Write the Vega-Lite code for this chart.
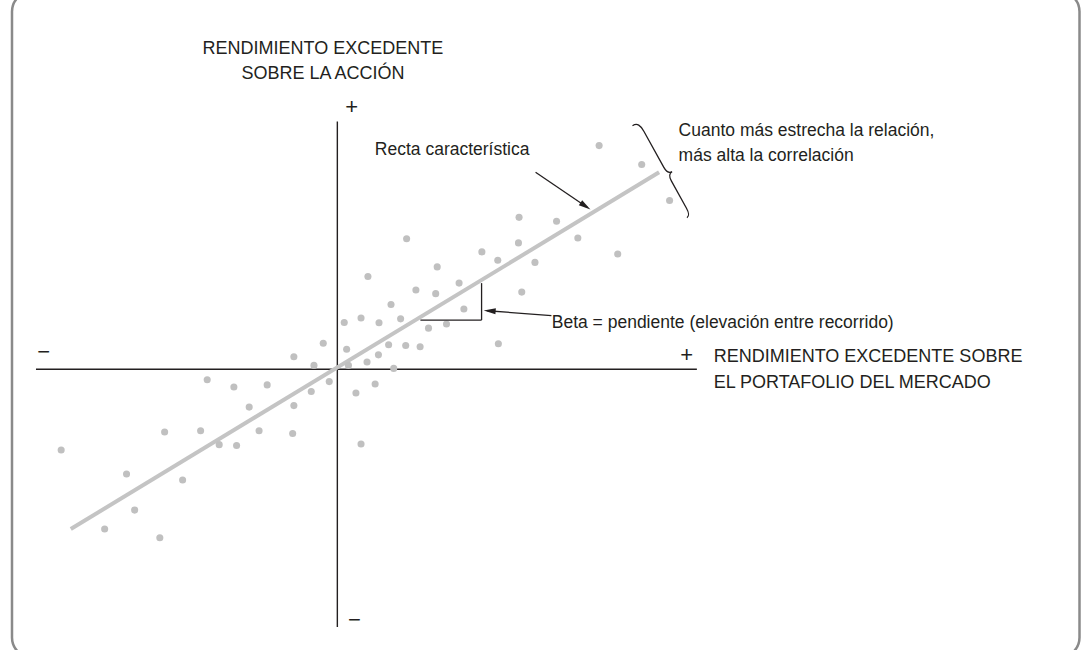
{
  "$schema": "https://vega.github.io/schema/vega-lite/v6.json",
  "width": 1087,
  "height": 650,
  "autosize": {"type": "fit", "contains": "padding"},
  "padding": 0,
  "background": "white",
  "config": {
    "view": {"stroke": null},
    "text": {"font": "Liberation Sans", "fontSize": 17.5, "color": "#231f20", "baseline": "middle"}
  },
  "datasets": {
    "stocks": [
      {"x": 8.73, "y": 7.45}, {"x": 10.15, "y": 6.82}, {"x": 11.08, "y": 5.62}, {"x": 6.06, "y": 5.06},
      {"x": 7.31, "y": 4.93}, {"x": 2.31, "y": 4.35}, {"x": 6.04, "y": 4.21}, {"x": 8.02, "y": 4.37},
      {"x": 4.82, "y": 3.91}, {"x": 5.35, "y": 3.63}, {"x": 6.59, "y": 3.56}, {"x": 9.35, "y": 3.84},
      {"x": 1.02, "y": 3.09}, {"x": 3.33, "y": 3.41}, {"x": 2.62, "y": 2.64}, {"x": 3.28, "y": 2.52},
      {"x": 6.15, "y": 2.57}, {"x": 1.79, "y": 2.16}, {"x": 4.22, "y": 2.01}, {"x": 0.23, "y": 1.56},
      {"x": 0.79, "y": 1.71}, {"x": 1.39, "y": 1.55}, {"x": 2.11, "y": 1.68}, {"x": 3.04, "y": 1.37},
      {"x": 3.64, "y": 1.51}, {"x": 0.31, "y": 0.67}, {"x": 1.71, "y": 0.82}, {"x": 2.28, "y": 0.79},
      {"x": 2.76, "y": 0.75}, {"x": 5.37, "y": 0.85}, {"x": 1.37, "y": 0.48}, {"x": 0.99, "y": 0.24},
      {"x": -0.47, "y": 0.87}, {"x": -1.45, "y": 0.42}, {"x": -0.78, "y": 0.13}, {"x": 0.37, "y": 0.13},
      {"x": 1.88, "y": 0.03}, {"x": -4.34, "y": -0.35}, {"x": -3.45, "y": -0.59}, {"x": -2.34, "y": -0.52},
      {"x": -0.27, "y": -0.41}, {"x": -0.87, "y": -0.74}, {"x": 0.62, "y": -0.79}, {"x": 1.26, "y": -0.49},
      {"x": -2.94, "y": -1.26}, {"x": -1.45, "y": -1.21}, {"x": -5.76, "y": -2.09}, {"x": -4.56, "y": -2.05},
      {"x": -3.94, "y": -2.51}, {"x": -3.36, "y": -2.54}, {"x": -2.61, "y": -2.05}, {"x": -1.49, "y": -2.14},
      {"x": 0.79, "y": -2.49}, {"x": -9.21, "y": -2.69}, {"x": -7.03, "y": -3.49}, {"x": -5.16, "y": -3.69},
      {"x": -6.76, "y": -4.69}, {"x": -7.76, "y": -5.32}, {"x": -5.92, "y": -5.61}, {"x": 4.06, "y": 2.87}
    ],
    "fit": [{"x": -8.89, "y": -5.32, "x2": 10.73, "y2": 6.56}],
    "axes": [
      {"x": -10.05, "y": 0, "x2": 11.99, "y2": 0},
      {"x": 0, "y": 8.25, "x2": 0, "y2": -8.58}
    ],
    "annot": [
      {"x": 2.77, "y": 1.64, "x2": 4.81, "y2": 1.64},
      {"x": 4.81, "y": 1.64, "x2": 4.81, "y2": 2.87},
      {"x": 6.61, "y": 6.56, "x2": 8.34, "y2": 5.39},
      {"x": 7.14, "y": 1.79, "x2": 5.0, "y2": 1.95}
    ],
    "centerText": [
      {"x": -0.48, "y": 10.68, "label": "RENDIMIENTO EXCEDENTE"},
      {"x": -0.48, "y": 9.85, "label": "SOBRE LA ACCIÓN"}
    ],
    "leftText": [
      {"x": 1.25, "y": 7.32, "label": "Recta característica"},
      {"x": 11.38, "y": 7.95, "label": "Cuanto más estrecha la relación,"},
      {"x": 11.38, "y": 7.12, "label": "más alta la correlación"},
      {"x": 7.15, "y": 1.55, "label": "Beta = pendiente (elevación entre recorrido)"}
    ],
    "capsText": [
      {"x": 12.55, "y": 0.42, "label": "RENDIMIENTO EXCEDENTE SOBRE"},
      {"x": 12.55, "y": -0.45, "label": "EL PORTAFOLIO DEL MERCADO"}
    ],
    "signs": [
      {"x": 0.48, "y": 8.75, "label": "+"},
      {"x": 0.57, "y": -8.35, "label": "−"},
      {"x": -9.79, "y": 0.58, "label": "−"},
      {"x": 11.65, "y": 0.48, "label": "+"}
    ]
  },
  "encoding": {
    "x": {"field": "x", "type": "quantitative", "scale": {"domain": [-11.25, 25], "nice": false, "zero": false}, "axis": null},
    "y": {"field": "y", "type": "quantitative", "scale": {"domain": [-9.35, 12.3], "nice": false, "zero": false}, "axis": null}
  },
  "layer": [
    {
      "data": {"values": [{"x": -10.85, "y": 12.58, "x2": 24.75, "y2": -9.6}]},
      "mark": {"type": "rect", "fill": null, "stroke": "#8a8a8a", "strokeWidth": 2.5, "cornerRadius": 20, "clip": true},
      "encoding": {"x2": {"field": "x2"}, "y2": {"field": "y2"}}
    },
    {
      "data": {"name": "axes"},
      "mark": {"type": "rule", "color": "#231f20", "strokeWidth": 1.4},
      "encoding": {"x2": {"field": "x2"}, "y2": {"field": "y2"}}
    },
    {
      "data": {"name": "fit"},
      "mark": {"type": "rule", "color": "#c4c4c4", "strokeWidth": 4},
      "encoding": {"x2": {"field": "x2"}, "y2": {"field": "y2"}}
    },
    {
      "data": {"name": "stocks"},
      "mark": {"type": "point", "shape": "circle", "filled": true, "size": 50, "color": "#c0c0c0", "opacity": 1}
    },
    {
      "data": {"name": "annot"},
      "mark": {"type": "rule", "color": "#231f20", "strokeWidth": 1.3},
      "encoding": {"x2": {"field": "x2"}, "y2": {"field": "y2"}}
    },
    {
      "data": {"values": [{"x": 8.44, "y": 5.32}]},
      "mark": {"type": "point", "shape": "M0,0L-2,-0.5L-2,0.5Z", "filled": true, "size": 144, "color": "#231f20", "opacity": 1, "angle": 34.2}
    },
    {
      "data": {"values": [{"x": 4.88, "y": 1.96}]},
      "mark": {"type": "point", "shape": "M0,0L-2,-0.5L-2,0.5Z", "filled": true, "size": 144, "color": "#231f20", "opacity": 1, "angle": 184.2}
    },
    {
      "data": {"values": [{"x": 10.93, "y": 6.65}]},
      "mark": {"type": "point", "shape": "M-0.14,-1.05C-0.03,-1.06 0,-0.98 0,-0.85L0,-0.05C0,0.05 0.04,0.1 0.1,0.1C0.04,0.1 0,0.15 0,0.25L0,0.85C0,0.97 -0.02,1.01 -0.08,1.02", "filled": false, "size": 10650, "stroke": "#231f20", "strokeWidth": 1.3, "opacity": 1, "angle": 331}
    },
    {
      "data": {"name": "centerText"},
      "mark": {"type": "text", "align": "center", "fontSize": 18},
      "encoding": {"text": {"field": "label"}}
    },
    {
      "data": {"name": "leftText"},
      "mark": {"type": "text", "align": "left"},
      "encoding": {"text": {"field": "label"}}
    },
    {
      "data": {"name": "capsText"},
      "mark": {"type": "text", "align": "left", "fontSize": 18},
      "encoding": {"text": {"field": "label"}}
    },
    {
      "data": {"name": "signs"},
      "mark": {"type": "text", "align": "center", "fontSize": 22},
      "encoding": {"text": {"field": "label"}}
    }
  ]
}
